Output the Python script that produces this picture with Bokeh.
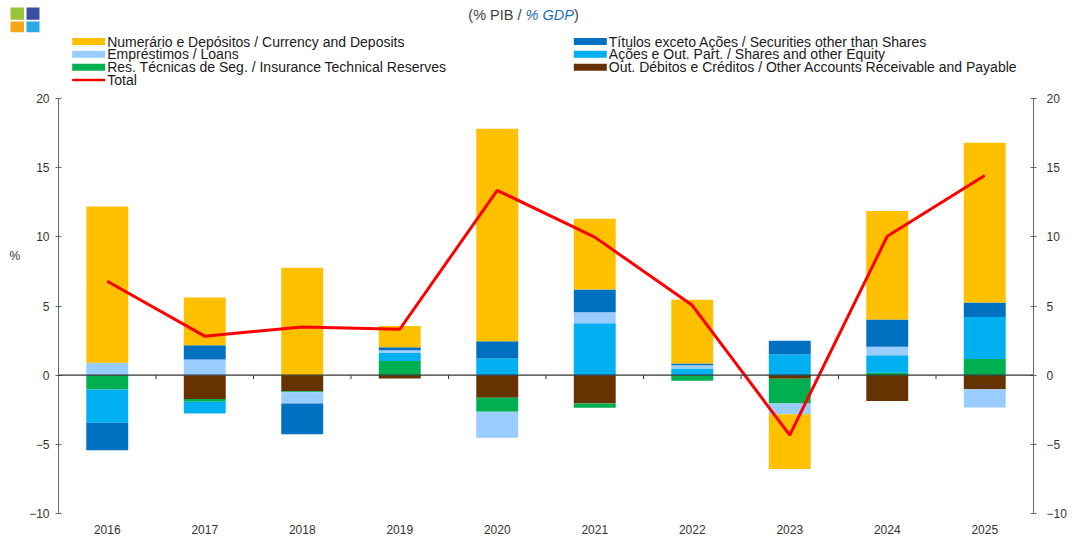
import numpy as np
from bokeh.plotting import figure
from bokeh.models import (Range1d, FactorRange, LinearAxis, FixedTicker, Span, ColumnDataSource)
from bokeh.layouts import column, row
from bokeh.core.properties import value
from bokeh.embed import file_html
from bokeh.resources import INLINE

years = ["2016", "2017", "2018", "2019", "2020", "2021", "2022", "2023", "2024", "2025"]

currency   = [11.30, 3.44, 7.77, 1.54, 15.36, 5.12, 4.62, -3.97, 7.84, 11.55]
securities = [-1.98, 1.04, -2.23, 0.20, 1.25, 1.64, 0.12, 0.99, 1.97, 1.04]
loans      = [0.90, 1.13, -0.82, 0.20, -1.88, 0.80, 0.24, -0.77, 0.61, -1.32]
shares     = [-2.41, -0.85, 0.00, 0.58, 1.20, 3.75, 0.48, 1.49, 1.27, 3.05]
insurance  = [-1.03, -0.19, -0.07, 1.03, -1.01, -0.31, -0.41, -1.79, 0.17, 1.16]
other      = [0.00, -1.73, -1.16, -0.24, -1.64, -2.05, 0.00, -0.26, -1.86, -1.01]
total      = [6.79, 2.82, 3.49, 3.32, 13.36, 9.98, 5.05, -4.33, 10.04, 14.44]

y_ticks = [-10, -5, 0, 5, 10, 15, 20]

lbl_currency = "Numerário e Depósitos / Currency and Deposits"
lbl_loans = "Empréstimos / Loans"
lbl_insurance = "Res. Técnicas de Seg. / Insurance Technical Reserves"
lbl_total = "Total"
lbl_securities = "Títulos exceto Ações / Securities other than Shares"
lbl_shares = "Ações e Out. Part. / Shares and other Equity"
lbl_other = "Out. Débitos e Créditos / Other Accounts Receivable and Payable"

title_parts = ["(% PIB /", "% GDP", ")"]

C_CURRENCY, C_LOANS, C_INS = "#FFC000", "#99CCFF", "#00B050"
C_SEC, C_SHARES, C_OTHER, C_TOTAL = "#0070C0", "#00B0F0", "#663300", "#FF0000"

# stacking order from zero outward
series = [
    ("other", other, C_OTHER),
    ("insurance", insurance, C_INS),
    ("shares", shares, C_SHARES),
    ("loans", loans, C_LOANS),
    ("securities", securities, C_SEC),
    ("currency", currency, C_CURRENCY),
]

FONT = "Liberation Sans"
W = 1076
HEAD_H = 88

# ---------------- header (logo, title, legend) ----------------
h = figure(width=W, height=HEAD_H, x_range=Range1d(0, W), y_range=Range1d(HEAD_H, 0),
           x_axis_location=None, y_axis_location=None, title=None,
           min_border_left=0, min_border_right=0, min_border_top=0, min_border_bottom=0,
           output_backend="svg", toolbar_location=None)
h.outline_line_color = None
h.grid.visible = False

# logo
h.quad(left=[10, 26, 10, 26], right=[23.5, 39, 23.5, 39], top=[7, 7, 21, 21],
       bottom=[19.3, 19.3, 31.7, 31.7],
       fill_color=["#99C23D", "#3C4EA0", "#F8A51B", "#29ABE2"], line_color=None)

# title
tf = dict(text_font=value(FONT), text_font_size=value("14.5px"), text_baseline="middle")
h.text(x=[521], y=[14], text=[title_parts[0]], text_align="right", text_color="#404040", **tf)
h.text(x=[525], y=[14], text=[title_parts[1]], text_align="left", text_color="#1F6FB5",
       text_font_style="italic", **tf)
h.text(x=[573.5], y=[14], text=[title_parts[2]], text_align="left", text_color="#404040", **tf)

# legend
row_y = [41.0, 53.8, 66.8, 79.6]
col1 = [(lbl_currency, C_CURRENCY), (lbl_loans, C_LOANS), (lbl_insurance, C_INS)]
col2 = [(lbl_securities, C_SEC), (lbl_shares, C_SHARES), (lbl_other, C_OTHER)]
lf = dict(text_font=value(FONT), text_font_size=value("14px"), text_baseline="middle",
          text_align="left", text_color="#1a1a1a")
for x0, items in [(71.7, col1), (573.3, col2)]:
    ys = row_y[:len(items)]
    h.quad(left=[x0] * len(items), right=[x0 + 33] * len(items),
           top=[y - 3.5 for y in ys], bottom=[y + 3.5 for y in ys],
           fill_color=[c for _, c in items], line_color=None)
    h.text(x=[x0 + 35] * len(items), y=ys, text=[t for t, _ in items], **lf)
h.line(x=[71.7, 104.7], y=[row_y[3], row_y[3]], line_color=C_TOTAL, line_width=2.5)
h.text(x=[106.7], y=[row_y[3]], text=[lbl_total], **lf)

# ---------------- main chart ----------------
p = figure(x_range=FactorRange(*years), y_range=Range1d(-10, 20), title=None,
           frame_width=975, frame_height=415,
           min_border_left=58, min_border_right=43, min_border_top=10, min_border_bottom=20,
           output_backend="svg", toolbar_location=None,
           background_fill_color="white", border_fill_color="white")
p.outline_line_color = None
p.xgrid.visible = False
p.ygrid.visible = False

pos_base = np.zeros(len(years))
neg_base = np.zeros(len(years))
for name, vals, color in series:
    v = np.array(vals, dtype=float)
    bottom = np.where(v >= 0, pos_base, neg_base)
    top = bottom + v
    pos_base = np.where(v >= 0, top, pos_base)
    neg_base = np.where(v < 0, top, neg_base)
    src = ColumnDataSource(dict(x=years, bottom=bottom, top=top))
    p.vbar(x="x", bottom="bottom", top="top", width=0.43, source=src,
           fill_color=color, line_color=None)

# zero line with category-boundary ticks
p.add_layout(Span(location=0, dimension="width", line_color="#333333", line_width=1.3))
bx = list(range(1, len(years)))
p.segment(x0=bx, y0=[0] * len(bx), x1=bx, y1=[-0.28] * len(bx),
          line_color="#333333", line_width=1)

src_t = ColumnDataSource(dict(x=years, y=total))
p.line(x="x", y="y", source=src_t, line_color=C_TOTAL, line_width=3)

# axes
xa = p.xaxis[0]
xa.axis_line_color = None
xa.major_tick_line_color = None
xa.minor_tick_line_color = None
xa.major_label_standoff = 5
xa.major_label_text_font_size = "12px"
xa.major_label_text_font = FONT
xa.major_label_text_color = "#333333"

def style_y(ax, standoff):
    ax.ticker = FixedTicker(ticks=y_ticks)
    ax.major_tick_in = 3
    ax.major_tick_out = 3
    ax.minor_tick_line_color = None
    ax.axis_line_color = "#666666"
    ax.major_tick_line_color = "#666666"
    ax.major_label_text_font_size = "12px"
    ax.major_label_text_font = FONT
    ax.major_label_text_color = "#333333"
    ax.major_label_standoff = standoff

ya = p.yaxis[0]
style_y(ya, 6)
ya.axis_label = "%\n \n \n \n \n \n "
ya.axis_label_orientation = "horizontal"
ya.axis_label_text_font_style = "normal"
ya.axis_label_text_font_size = "12px"
ya.axis_label_text_font = FONT
ya.axis_label_text_color = "#333333"
ya.axis_label_standoff = 6

yr = LinearAxis()
style_y(yr, 10)
p.add_layout(yr, "right")

layout = column(row(h), p, spacing=0)
open("out.html", "w").write(file_html(layout, INLINE))
